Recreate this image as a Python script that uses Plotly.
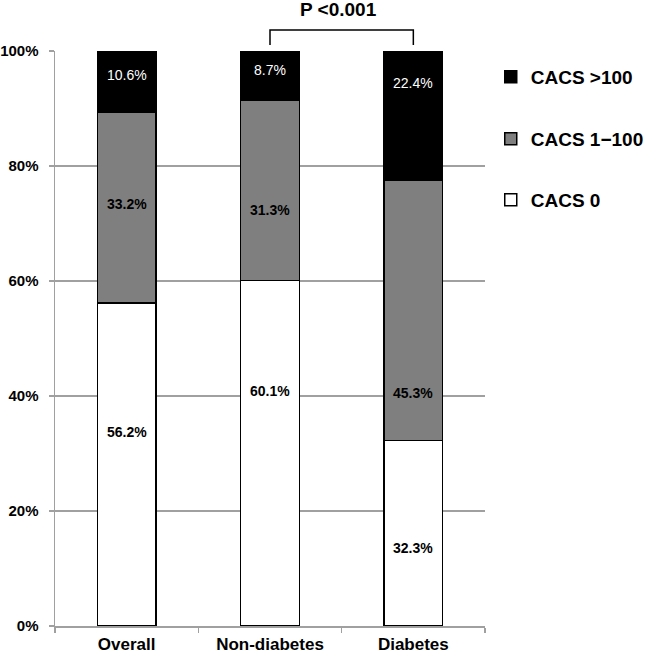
import plotly.graph_objects as go

categories = ["Overall", "Non-diabetes", "Diabetes"]
cacs0 = [56.2, 60.1, 32.3]
cacs1_100 = [33.2, 31.3, 45.3]
cacs_gt100 = [10.6, 8.7, 22.4]
series_names = ["CACS 0", "CACS 1\u2212100", "CACS >100"]
y_ticks = [0, 20, 40, 60, 80, 100]
p_text = "P <0.001"

# label placement within each segment (fraction of segment height), layout only
label_frac = {
    "CACS 0": [0.60, 0.68, 0.42],
    "CACS 1\u2212100": [0.52, 0.39, 0.18],
    "CACS >100": [0.60, 0.60, 0.75],
}

W, H = 650, 653
FONT = "Liberation Sans, Arial, sans-serif"
fills = ["#ffffff", "#7f7f7f", "#000000"]
text_colors = ["#000000", "#000000", "#ffffff"]
legend_ids = ["legend3", "legend2", "legend"]
legend_y_px = [200, 139, 77]

fig = go.Figure()
series = [cacs0, cacs1_100, cacs_gt100]
base = [0.0] * len(categories)
annotations = []
legend_layout = {}
for k, (name, vals) in enumerate(zip(series_names, series)):
    fig.add_trace(go.Bar(
        x=categories, y=vals, name=name,
        marker=dict(color=fills[k], line=dict(color="#000000", width=1.5)),
        width=0.41, legend=legend_ids[k],
        hoverinfo="skip",
    ))
    legend_layout[legend_ids[k]] = dict(
        xref="container", yref="container",
        x=0.755, y=1 - legend_y_px[k] / H, xanchor="left", yanchor="middle",
        font=dict(family=FONT, size=19, color="#000000", weight="bold"),
        bgcolor="rgba(0,0,0,0)", borderwidth=0, itemwidth=30,
    )
    for i, v in enumerate(vals):
        annotations.append(dict(
            x=categories[i], y=base[i] + label_frac[name][i] * v,
            xref="x", yref="y", xanchor="center", yanchor="middle",
            text=f"<b>{v:.1f}%</b>" if k < 2 else f"{v:.1f}%",
            showarrow=False,
            font=dict(family=FONT, size=14, color=text_colors[k]),
        ))
    base = [b + v for b, v in zip(base, vals)]

# P-value annotation and bracket between Non-diabetes and Diabetes
n = len(categories)
xa = (1 + 0.5) / n
xb = (2 + 0.5) / n
annotations.append(dict(
    x=(xa + xb) / 2 - 0.007, y=1.073, xref="x domain", yref="paper",
    xanchor="center", yanchor="middle",
    text=f"<b>{p_text}</b>", showarrow=False,
    font=dict(family=FONT, size=19, color="#000000"),
))
shapes = [dict(
    type="path", xref="x domain", yref="paper",
    path=f"M {xa},1.0105 L {xa},1.0365 L {xb},1.0365 L {xb},1.0105",
    line=dict(color="#000000", width=1.5),
)]

fig.update_layout(
    barmode="stack",
    width=W, height=H,
    margin=dict(l=55, r=165, t=51, b=27),
    paper_bgcolor="#ffffff", plot_bgcolor="#ffffff",
    font=dict(family=FONT, color="#000000"),
    annotations=annotations, shapes=shapes,
    showlegend=True,
    xaxis=dict(
        range=[-0.5, 2.5], type="category",
        showline=True, linecolor="#a0a0a0", linewidth=1.5,
        ticks="outside", tickson="boundaries", ticklen=5, tickcolor="#a0a0a0",
        tickwidth=1.5, ticklabelstandoff=2,
        tickfont=dict(family=FONT, size=17, color="#000000", weight="bold"),
        showgrid=False, automargin=False, fixedrange=True,
    ),
    yaxis=dict(
        range=[0, 100], tickvals=y_ticks, ticktext=[f"{t}%" for t in y_ticks],
        showline=True, linecolor="#a0a0a0", linewidth=1.5,
        ticks="outside", ticklen=5, tickcolor="#a0a0a0", tickwidth=1.5,
        ticklabelstandoff=7,
        showgrid=True, gridcolor="#a0a0a0", gridwidth=1.5,
        tickfont=dict(family=FONT, size=15, color="#000000", weight="bold"),
        zeroline=False, automargin=False, fixedrange=True,
    ),
    **legend_layout,
)

fig.write_html(
    "out.html",
    config={"displayModeBar": False, "staticPlot": True},
    post_script="document.body.style.margin='0px';document.body.style.overflow='hidden';",
)
